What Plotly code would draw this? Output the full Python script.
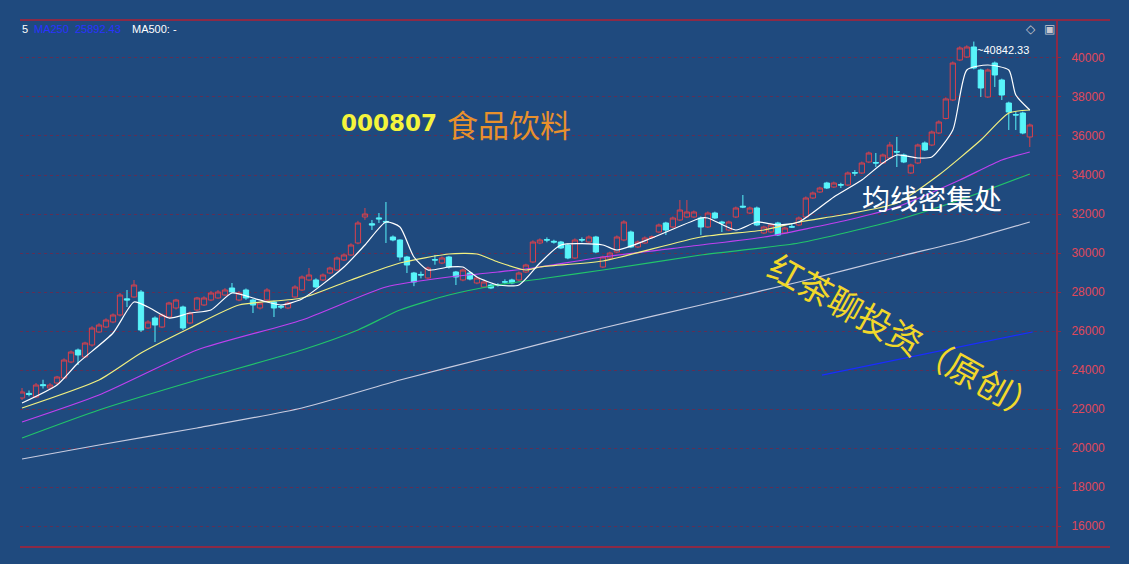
import plotly.graph_objects as go

# ---------------- data ----------------
idx = list(range(145))
opens = [22565,22800,22616,23250,23077,23334,23590,24411,25026,24667,25282,25949,26205,26462,26821,27650,27744,28000,26154,26667,
         26205,26718,27180,27231,26411,27077,27334,27590,27693,27846,28205,27590,28103,27590,27180,27590,27487,27260,27180,27744,
         28103,28616,28616,28616,28974,29128,29641,29898,30513,31846,31500,31800,31620,30821,30667,29795,28974,28900,28718,29660,
         29487,29795,29026,28616,28974,28462,28257,28359,28370,28520,28616,28616,29026,29539,30513,30680,30600,30564,30410,29744,
         30690,30564,30821,29282,29744,30051,30667,31077,30308,30513,30800,31077,31539,31333,31692,31846,31846,31795,31333,32051,
         31590,31180,31846,32400,32051,32308,31026,31077,31539,31026,31350,31436,31846,32821,33128,33590,33385,33500,33487,34120,
         34103,34667,34640,34615,34872,35200,35026,34103,34615,35641,35538,36154,36900,37846,39897,40051,40564,39384,38000,39743,
         38872,37692,37100,37179,35949]
highs = [23077,22950,23334,23500,23330,23700,24600,25000,25100,25450,26250,26400,26650,26900,27950,28103,28616,28100,26550,26750,
         26900,27500,27650,27300,27000,27750,27780,28050,28100,28200,28462,28050,28180,27650,27500,28200,27550,27350,27520,28350,
         28850,29231,28700,28950,29300,29820,29980,30500,31650,32308,31692,32051,32615,30900,30700,29850,29030,29050,29300,29900,
         29820,29850,29080,29200,29030,28780,28580,28420,28450,28650,28680,29050,29450,30650,30750,30800,30680,30620,30480,30750,
         30800,30900,30880,29860,30070,30900,31680,31150,30640,30850,30900,31510,31600,31870,32718,32718,32180,31870,32130,32120,
         31650,31660,32380,32974,32380,32380,31400,31510,31600,31350,31539,31870,32900,33150,33400,33650,33660,33600,34180,34250,
         34690,35200,35128,35100,35700,35949,35100,34580,35610,35720,36280,36800,37980,39820,40600,40650,40842,39450,39460,39820,
         38940,37760,37231,37250,36640]
lows = [22462,22650,22560,23050,23000,23250,23550,24350,24257,24600,25200,25900,26150,26400,26750,27231,27700,25950,26100,25436,
        26150,26650,27100,26050,26350,27000,27280,27530,27650,27800,27950,27530,27600,26923,27100,27530,26718,27130,27120,27700,
        28050,28560,28200,28560,28920,29080,29590,29850,30450,31700,31180,31539,30513,30600,29600,28974,28300,28700,28650,29400,
        29430,29200,28359,28550,28600,28400,28200,28150,28280,28400,28400,28550,28970,29480,30450,30550,30480,30200,29680,29690,
        30550,30500,29990,29230,29690,29990,30600,30250,30250,30460,30720,31020,30923,31280,31640,31790,31790,30923,31280,31740,
        31077,31120,31790,32300,32000,31380,30970,31020,30870,30970,31282,31380,31790,32770,33080,33280,33330,33333,33430,33950,
        34050,34610,34410,34560,34820,34410,34610,34050,34560,35230,35480,36100,36850,37790,39840,40000,39420,38000,37950,38513,
        37846,36308,36308,36090,35436]
closes = [22872,22750,23231,23200,23231,23641,24513,24923,24770,25385,26154,26308,26564,26821,27846,27590,28359,26052,26462,26308,
          26821,27436,27590,26154,26923,27693,27693,27949,28000,28103,28000,27949,27693,27334,27436,28103,27180,27231,27436,28257,
          28769,28872,28257,28872,29231,29744,29898,30410,31539,32000,31436,31750,31590,30667,29795,29385,28513,28872,29231,29641,
          29744,29282,28769,29128,28667,28718,28513,28205,28359,28513,28462,28974,29385,30564,30667,30667,30564,30257,29744,30667,
          30667,30821,30051,29795,30000,30821,31590,30308,30564,30769,30821,31436,31180,31795,32205,32103,32103,31333,32051,31795,
          31539,31590,32308,32359,32308,31436,31333,31436,30923,31282,31330,31795,32821,33077,33333,33333,33590,33487,34103,34103,
          34615,35128,34615,35026,35538,35179,34667,34513,35538,35282,36205,36718,37900,39743,40513,40564,39487,38461,39384,39128,
          38102,37231,37077,36154,36564]

ma5_x = [0,5,8,13,16,18,21,24,27,30,33,35,37,40,46,49,52,54,56,58,61,63,65,68,71,74,77,83,85,90,97,98,102,105,108,111,116,120,123,125,128,130,133,135,138,141,142,144]
ma5_y = [22308,23231,24359,25898,27487,27231,26667,26923,27077,27949,27693,27487,27334,27642,29282,30410,31590,31333,29795,29128,29282,29282,28769,28359,28359,29487,30410,30410,30154,30769,31795,31795,31180,31590,31436,31590,32872,33744,34615,35026,34872,34923,36308,39384,39641,39384,38102,37333]
ma10_x = [0,11,17,24,31,40,47,54,61,65,68,72,74,83,97,106,111,118,125,131,137,141,144]
ma10_y = [22052,23487,24872,26154,27334,27693,28616,29487,29949,29949,29539,29128,29282,29590,30821,31180,31590,32000,32564,34000,35795,37179,37333]
ma20_x = [0,11,25,40,52,61,68,73,83,97,106,118,125,134,140,144]
ma20_y = [21334,22718,25026,26564,28257,28769,29026,29231,29795,30410,30821,31692,32359,33744,34769,35179]
ma60_x = [0,11,25,40,48,54,61,68,75,83,97,111,125,134,144]
ma60_y = [20513,21949,23487,25026,26052,27077,27846,28359,28718,29128,29898,30513,31692,32718,34051]
ma250_x = [0,11,25,40,54,68,83,97,111,125,135,144]
ma250_y = [19436,20154,21026,22052,23487,24770,26154,27334,28513,29795,30667,31590]
trend_x = [114.3, 144.4]
trend_y = [23740, 25950]

y_ticks = [16000,18000,20000,22000,24000,26000,28000,30000,32000,34000,36000,38000,40000]
high_label = "40842.33"

# ---------------- styling ----------------
BG = "#1f4a7e"
RED = "#d8404c"
CYAN = "#58f4fa"
GRID = "#5e2f55"
AXIS = "#8c2a46"

fig = go.Figure()
fig.add_trace(go.Candlestick(
    x=idx, open=opens, high=highs, low=lows, close=closes,
    increasing=dict(line=dict(color=RED, width=1), fillcolor=BG),
    decreasing=dict(line=dict(color=CYAN, width=1), fillcolor=CYAN),
    whiskerwidth=0, showlegend=False, hoverinfo="skip"))

for xs, ys, col in [(ma250_x, ma250_y, "#c8cce0"), (ma60_x, ma60_y, "#22c46a"),
                    (ma20_x, ma20_y, "#c040f0"), (ma10_x, ma10_y, "#f2f080"),
                    (ma5_x, ma5_y, "#ffffff")]:
    fig.add_trace(go.Scatter(x=xs, y=ys, mode="lines",
                             line=dict(color=col, width=1.2, shape="spline", smoothing=0.6),
                             showlegend=False, hoverinfo="skip"))

fig.add_trace(go.Scatter(x=trend_x, y=trend_y, mode="lines", line=dict(color="#1a2cff", width=1.2),
                         showlegend=False, hoverinfo="skip"))

W, H = 1129, 564
L, R, T, B = 20, 74, 20, 17
def px(x):
    return (x - L) / (W - L - R)
def py(y):
    return (H - B - y) / (H - T - B)

ann = []
def add(text, x, y, size, color, family="Liberation Sans", xanchor="center", angle=0, bold=False):
    ann.append(dict(text=(f"<b>{text}</b>" if bold else text), x=px(x), y=py(y), xref="paper", yref="paper",
                    showarrow=False, xanchor=xanchor, yanchor="middle", textangle=angle,
                    font=dict(size=size, color=color, family=family)))

add("000807", 389, 123, 23, "#f4f43c", family="DejaVu Sans", bold=True)
add("食品饮料", 509, 123, 31, "#e8902c", family="Noto Sans CJK SC")
add("均线密集处", 932, 198, 28, "#ffffff", family="Noto Sans CJK SC")
add("红茶聊投资（原创）", 906, 336, 34, "#f2d82a", family="Noto Sans CJK SC", angle=29)
add("5", 20, 29, 11, "#ffffff", xanchor="left")
add("MA250  25892.43", 32, 29, 11, "#2a32ff", xanchor="left")
add("MA500: -", 130, 29, 11, "#ffffff", xanchor="left")
add("◇", 1031, 29, 12, "#c8c8d0")
add("▣", 1049, 29, 12, "#c8c8d0")
ann.append(dict(text="~" + high_label, x=136, y=40842, xref="x", yref="y", showarrow=False,
                xanchor="left", yanchor="top", xshift=1, yshift=0,
                font=dict(size=11, color="#ffffff", family="Liberation Sans")))

shapes = [
    dict(type="line", xref="paper", yref="paper", x0=px(20), x1=px(1110), y0=py(20), y1=py(20),
         line=dict(color=AXIS, width=2)),
    dict(type="line", xref="paper", yref="paper", x0=px(20), x1=px(1110), y0=py(547), y1=py(547),
         line=dict(color=AXIS, width=2)),
    dict(type="line", xref="paper", yref="paper", x0=px(1057), x1=px(1057), y0=py(20), y1=py(547),
         line=dict(color=AXIS, width=2)),
]

fig.update_layout(
    width=W, height=H, margin=dict(l=L, r=R, t=T, b=B),
    paper_bgcolor=BG, plot_bgcolor=BG, boxgap=0.25, boxgroupgap=0,
    annotations=ann, shapes=shapes, showlegend=False,
    xaxis=dict(range=[-0.29, 147.6], visible=False, rangeslider=dict(visible=False), fixedrange=True),
    yaxis=dict(range=[14924, 41948], side="right", tickvals=y_ticks,
               ticktext=[str(v) for v in y_ticks], ticks="outside", ticklen=5, tickcolor=AXIS,
               tickfont=dict(size=12, color="#e0485a", family="Liberation Sans"),
               ticklabelstandoff=8, showgrid=True, gridcolor=GRID, griddash="dot", gridwidth=1,
               zeroline=False, showline=False, fixedrange=True),
)

fig.write_html("out.html", config={"displayModeBar": False, "staticPlot": True})

# remove the default page margin so the chart fills the window exactly
with open("out.html", encoding="utf-8") as f:
    html = f.read()
html = html.replace("<head>", "<head><style>html,body{margin:0;padding:0;overflow:hidden;background:#1f4a7e}</style>", 1)
with open("out.html", "w", encoding="utf-8") as f:
    f.write(html)
